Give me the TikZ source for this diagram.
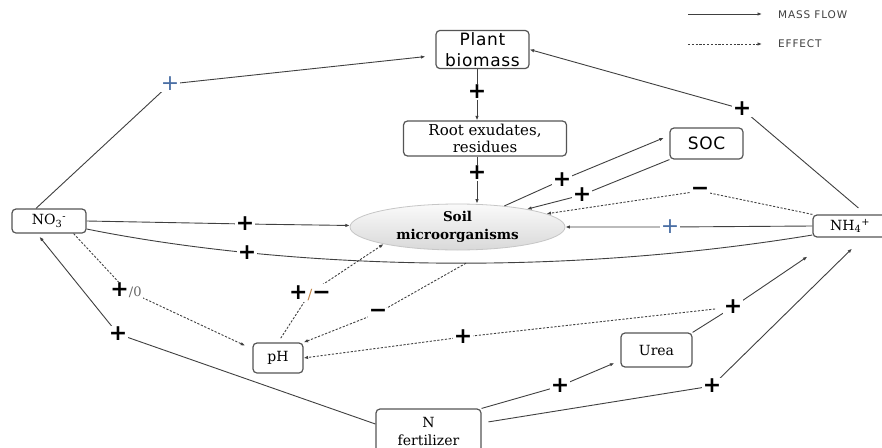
\documentclass[tikz,border=0pt]{standalone}
\usepackage{fontspec}
\setmainfont{DejaVu Serif}
\newfontfamily\sansf{DejaVu Sans}[LetterSpace=4.0]
\newfontfamily\legf{DejaVu Sans}[LetterSpace=8.0]
\newfontfamily\symf{DejaVu Sans}
\usetikzlibrary{arrows.meta,calc,shapes.geometric}
\definecolor{ln}{HTML}{404040}
\definecolor{bx}{HTML}{555555}
\definecolor{pblue}{HTML}{4A6FA5}
\definecolor{slash}{HTML}{C08040}
\begin{document}
\begin{tikzpicture}[x=1pt,y=-1pt,
  rbox/.style={draw=bx,line width=1.2pt,rounded corners=4pt,fill=white,align=center,inner sep=2pt},
  sbox/.style={rbox,font=\fontsize{14}{17}\selectfont},
  mflow/.style={draw=ln,line width=0.9pt,-{Latex[length=4.5pt,width=3.5pt]}},
  ln0/.style={draw=ln,line width=0.9pt},
  eff/.style={draw=ln,line width=0.9pt,dash pattern=on 2.2pt off 1.6pt,-{Latex[length=4.5pt,width=3.5pt]}},
  pl/.style={font=\symf\bfseries\fontsize{22}{22}\selectfont,fill=white,inner sep=1pt,text=black},
  plb/.style={pl,font=\symf\fontsize{22}{22}\selectfont,text=pblue},
]
\useasboundingbox (0,0) rectangle (882,447);
\fill[white] (0,0) rectangle (882,447);

% nodes
\node[rbox,font=\sansf\fontsize{17}{21}\selectfont,minimum width=93pt,minimum height=37pt] (pb) at (482.5,49.5) {Plant\\biomass};
\node[sbox,minimum width=163pt,minimum height=35pt,font=\fontsize{15}{17}\selectfont] (root) at (485,138.5) {Root exudates,\\residues};
\node[rbox,font=\sansf\fontsize{17}{20}\selectfont,minimum width=73pt,minimum height=31pt] (soc) at (706.5,143.5) {SOC};
\node[ellipse,draw=gray!45,line width=0.8pt,top color=gray!4,bottom color=gray!30,minimum width=215pt,minimum height=46pt,inner sep=0pt,align=center,font=\fontsize{13.5}{18}\selectfont\bfseries] (soil) at (457.5,227) {Soil\\microorganisms};
\node[sbox,minimum width=74pt,minimum height=24pt,font=\fontsize{14}{15}\selectfont] (no3) at (49,221) {NO\textsubscript{3}\textsuperscript{-}};
\node[sbox,minimum width=74pt,minimum height=22pt,font=\fontsize{14}{15}\selectfont] (nh4) at (850,226) {NH\textsubscript{4}\textsuperscript{+}};
\node[sbox,minimum width=50pt,minimum height=30pt] (ph) at (278,358) {pH};
\node[sbox,minimum width=71pt,minimum height=34pt] (urea) at (656.5,350) {Urea};
\node[sbox,minimum width=105pt,minimum height=44pt,font=\fontsize{14}{18}\selectfont] (nfert) at (428.5,431) {N\\fertilizer};

% label positions
\coordinate (vx) at (477,0);
\coordinate (k1) at (170,84);
\coordinate (k2) at (477,92);
\coordinate (k3) at (477,173);
\coordinate (k4) at (742,109);
\coordinate (k5) at (562,180);
\coordinate (k6) at (582,195);
\coordinate (k7) at (700,191);
\coordinate (k8) at (670,227);
\coordinate (k9) at (245,224);
\coordinate (k11) at (126,290);
\coordinate (k12) at (118,334);
\coordinate (k13) at (310,293);
\coordinate (k14) at (378,313);
\coordinate (k15) at (463,337);
\coordinate (k16) at (733,307);
\coordinate (k17) at (560,386);
\coordinate (k18) at (712,386);

% connectors
\draw[mflow,shorten >=10pt] ($(no3.north)+(-13,0)$) -- (k1) -- ($(pb.west)+(0,6)$);
\draw[mflow] (vx |- pb.south) -- (vx |- root.north);
\draw[mflow] (vx |- root.south) -- (vx |- soil.north);
\draw[mflow,shorten <=10pt] ($(nh4.north)+(16,0)$) -- (k4) -- (pb.east);
\draw[mflow,shorten >=6pt] (soil) -- (k5) -- ($(soc.west)+(0,-8)$);
\draw[mflow] (soc.south west) -- (k6) -- (soil);
\draw[eff] (nh4.north west) -- (k7) -- (soil);
\draw[mflow] (nh4.west) -- (k8) -- (soil);
\draw[mflow] (no3.east) -- (k9) -- (soil);
\draw[ln0] ($(no3.east)+(0,8)$) .. controls (250,262) and (520,283) .. ($(nh4.west)+(0,9)$)
  coordinate[pos=0.28] (k10) coordinate[pos=0.585] (c14);
\draw[eff,shorten >=8pt] ($(no3.south east)+(-13,0)$) -- (k11) -- ($(ph.west)+(0,-9)$);
\draw[mflow,shorten >=4pt] ($(nfert.west)+(0,-7)$) -- (k12) -- ($(no3.south)+(-12,0)$);
\draw[eff,shorten <=5pt] (ph.north) -- (k13) -- (soil.193);
\draw[eff] (c14) -- (k14) -- (ph.north east);
\draw[eff,shorten <=18pt] (k16) -- (k15) -- (ph.east);
\draw[mflow] (urea.north east) -- (k16) -- ($(nh4.south west)+(-5,19)$);
\draw[mflow] (nfert.north east) -- (k17) -- ($(urea.west)+(-6,13)$);
\draw[mflow,shorten <=7pt] ($(nfert.east)+(0,-8)$) -- (k18) -- ($(nh4.south)+(2,11)$);

% effect labels
\node[plb] (l1) at (k1) {+};
\node[pl] (l2) at (k2) {+};
\node[pl] (l3) at (k3) {+};
\node[pl] (l4) at (k4) {+};
\node[pl] (l5) at (k5) {+};
\node[pl] (l6) at (k6) {+};
\node[pl] (l7) at (k7) {−};
\node[plb] (l8) at (k8) {+};
\node[pl] (l9) at (k9) {+};
\node[pl] (l10) at (k10) {+};
\node[pl] (l11) at (k11) {+\textcolor{gray!80!black}{\normalfont\fontsize{13}{13}\selectfont/0}};
\node[pl] (l12) at (k12) {+};
\node[pl] (l13) at (k13) {+\textcolor{slash}{\normalfont\fontsize{14}{14}\selectfont/}−};
\node[pl] (l14) at (k14) {−};
\node[pl] (l15) at (k15) {+};
\node[pl] (l16) at (k16) {+};
\node[pl] (l17) at (k17) {+};
\node[pl] (l18) at (k18) {+};

% legend
\coordinate (la1) at (688,14);
\coordinate (la2) at (762,14);
\coordinate (lb1) at (688,44);
\coordinate (lb2) at (762,44);
\draw[mflow] (la1) -- (la2);
\draw[eff] (lb1) -- (lb2);
\node[anchor=west,inner sep=0pt,font=\legf\fontsize{10.5}{12}\selectfont,text=ln] (lt1) at (778,15) {MASS FLOW};
\node[anchor=west,inner sep=0pt,font=\legf\fontsize{10.5}{12}\selectfont,text=ln] (lt2) at (778,44) {EFFECT};
\end{tikzpicture}
\end{document}
